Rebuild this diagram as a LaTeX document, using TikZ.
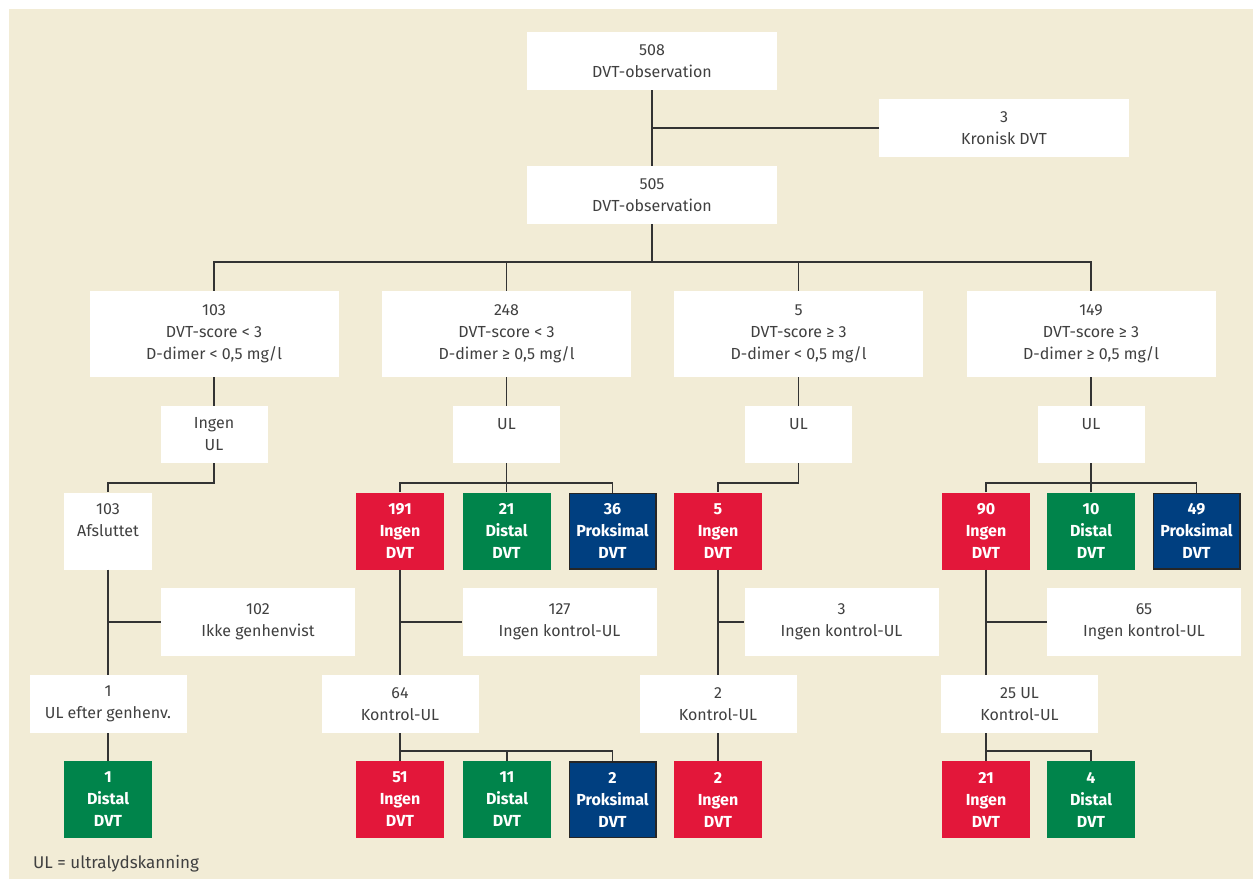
\documentclass[tikz,border=0pt]{standalone}
\usepackage{fontspec}
\setmainfont{Fira Sans}
\definecolor{bg}{HTML}{F2ECD6}
\definecolor{txt}{HTML}{404040}
\definecolor{lc}{HTML}{333333}
\definecolor{cred}{HTML}{E3173A}
\definecolor{cgreen}{HTML}{00844B}
\definecolor{cblue}{HTML}{003F80}
\begin{document}
\begin{tikzpicture}[x=1pt,y=-1pt,
  wb/.style={fill=white, inner sep=0pt, align=center, text=txt, font=\fontsize{16}{22}\selectfont},
  cb/.style={inner sep=0pt, align=center, text=white, font=\fontsize{16}{22}\selectfont\bfseries, minimum width=88pt, minimum height=77pt},
  redbox/.style={cb, fill=cred},
  greenbox/.style={cb, fill=cgreen},
  bluebox/.style={cb, fill=cblue, draw=black!85, line width=1.5pt, minimum width=86.5pt, minimum height=75.5pt},
  ln/.style={draw=lc, line width=1.2pt},
  big/.style={wb, minimum width=250pt, minimum height=58pt},
  crit/.style={wb, minimum width=249pt, minimum height=86pt},
  ulb/.style={wb, minimum width=107pt, minimum height=57pt},
  afs/.style={wb, minimum width=88pt, minimum height=77pt},
  side/.style={wb, minimum width=194pt, minimum height=68pt},
  ctl/.style={wb, minimum width=157pt, minimum height=58pt}
]
\useasboundingbox (0,0) rectangle (1253,879);
\fill[bg] (9,9) rectangle (1253,879);

% top
\node[big] (n508) at (652,61) {508\\DVT-observation};
\node[big] (kron) at (1004,128) {3\\Kronisk DVT};
\node[big] (n505) at (652,195) {505\\DVT-observation};

% criteria
\node[crit] (c1) at (214,334) {103\\DVT-score < 3\\D-dimer < 0,5 mg/l};
\node[crit] (c2) at (506.5,334) {248\\DVT-score < 3\\D-dimer ≥ 0,5 mg/l};
\node[crit] (c3) at (798.5,334) {5\\DVT-score ≥ 3\\D-dimer < 0,5 mg/l};
\node[crit] (c4) at (1091,334) {149\\DVT-score ≥ 3\\D-dimer ≥ 0,5 mg/l};

% UL
\node[ulb] (u1) at (214,434.5) {Ingen\\UL};
\node[ulb] (u2) at (506.5,434.5) {UL\\~};
\node[ulb] (u3) at (798.5,434.5) {UL\\~};
\node[ulb] (u4) at (1091,434.5) {UL\\~};

% row 4
\node[afs] (a1) at (108,531) {103\\Afsluttet\\~};
\node[redbox] (r191) at (400,531) {191\\Ingen\\DVT};
\node[greenbox] (g21) at (506.5,531) {21\\Distal\\DVT};
\node[bluebox] (b36) at (612.5,531) {36\\Proksimal\\DVT};
\node[redbox] (r5) at (718,531) {5\\Ingen\\DVT};
\node[redbox] (r90) at (986,531) {90\\Ingen\\DVT};
\node[greenbox] (g10) at (1091,531) {10\\Distal\\DVT};
\node[bluebox] (b49) at (1196.5,531) {49\\Proksimal\\DVT};

% side boxes
\node[side] (s1) at (258,622) {102\\Ikke genhenvist};
\node[side] (s2) at (559.5,622) {127\\Ingen kontrol-UL};
\node[side] (s3) at (841.5,622) {3\\Ingen kontrol-UL};
\node[side] (s4) at (1144,622) {65\\Ingen kontrol-UL};

% row 5
\node[ctl] (k1) at (108,704) {1\\UL efter genhenv.};
\node[ctl] (k2) at (400,704) {64\\Kontrol-UL};
\node[ctl] (k3) at (718,704) {2\\Kontrol-UL};
\node[ctl] (k4) at (1019.5,704) {25 UL\\Kontrol-UL};

% row 6
\node[greenbox] (g1) at (108,799.5) {1\\Distal\\DVT};
\node[redbox] (r51) at (400,799.5) {51\\Ingen\\DVT};
\node[greenbox] (g11) at (507,799.5) {11\\Distal\\DVT};
\node[bluebox] (b2) at (612.5,799.5) {2\\Proksimal\\DVT};
\node[redbox] (r2) at (718,799.5) {2\\Ingen\\DVT};
\node[redbox] (r21) at (986,799.5) {21\\Ingen\\DVT};
\node[greenbox] (g4) at (1091,799.5) {4\\Distal\\DVT};

\node[anchor=west, inner sep=0pt, text=txt, font=\fontsize{17}{20}\selectfont] (foot) at (33,864) {UL = ultralydskanning};

% connectors
\coordinate (j0) at (652,262);
\coordinate (j1) at (0,483);
\coordinate (j2) at (0,751);

\draw[ln] (n508.south) -- (n505.north);
\draw[ln] (n508.south |- kron.west) -- (kron.west);
\draw[ln] (n505.south) -- (j0);
\draw[ln] (c1.north) -- (c1.north |- j0) -- (c4.north |- j0) -- (c4.north);
\draw[ln] (c2.north) -- (c2.north |- j0);
\draw[ln] (c3.north) -- (c3.north |- j0);

\draw[ln] (c1.south) -- (u1.north);
\draw[ln] (c2.south) -- (u2.north);
\draw[ln] (c3.south) -- (u3.north);
\draw[ln] (c4.south) -- (u4.north);

% UL to results
\draw[ln] (u1.south) -- (u1.south |- j1) -- (a1.north |- j1) -- (a1.north);
\draw[ln] (u2.south) -- (u2.south |- j1);
\draw[ln] (r191.north) -- (r191.north |- j1) -- (b36.north |- j1) -- (b36.north);
\draw[ln] (g21.north) -- (g21.north |- j1);
\draw[ln] (u3.south) -- (u3.south |- j1) -- (r5.north |- j1) -- (r5.north);
\draw[ln] (u4.south) -- (u4.south |- j1);
\draw[ln] (r90.north) -- (r90.north |- j1) -- (b49.north |- j1) -- (b49.north);
\draw[ln] (g10.north) -- (g10.north |- j1);

% results to control
\draw[ln] (a1.south) -- (k1.north);
\draw[ln] (a1.south |- s1.west) -- (s1.west);
\draw[ln] (r191.south) -- (k2.north);
\draw[ln] (r191.south |- s2.west) -- (s2.west);
\draw[ln] (r5.south) -- (k3.north);
\draw[ln] (r5.south |- s3.west) -- (s3.west);
\draw[ln] (r90.south) -- (r90.south |- k4.north);
\draw[ln] (r90.south |- s4.west) -- (s4.west);

% control to outcomes
\draw[ln] (k1.south) -- (g1.north);
\draw[ln] (k2.south) -- (k2.south |- j2);
\draw[ln] (r51.north) -- (r51.north |- j2) -- (b2.north |- j2) -- (b2.north);
\draw[ln] (g11.north) -- (g11.north |- j2);
\draw[ln] (k3.south) -- (r2.north);
\draw[ln] (r90.south |- k4.south) -- (r90.south |- j2);
\draw[ln] (r21.north) -- (r21.north |- j2) -- (g4.north |- j2) -- (g4.north);
\end{tikzpicture}
\end{document}
